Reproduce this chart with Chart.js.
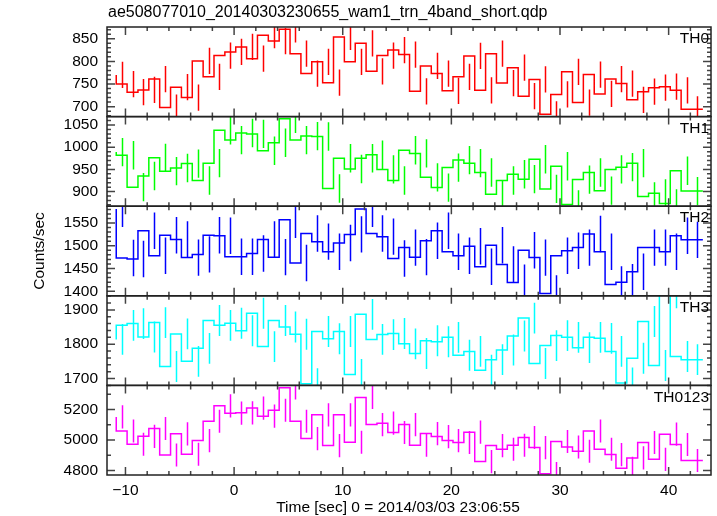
<!DOCTYPE html>
<html>
<head>
<meta charset="utf-8">
<script src="https://cdn.jsdelivr.net/npm/chart.js@4.4.0/dist/chart.umd.min.js"></script>
<style>
    html, body { margin: 0; padding: 0; background: #fff; }
    #wrap { width: 717px; height: 516px; }
</style>
</head>
<body>
<div id="wrap"><canvas id="chart" width="717" height="516"></canvas></div>
<script>
'use strict';

const plotTitle = 'ae508077010_20140303230655_wam1_trn_4band_short.qdp';
const xTitle = 'Time [sec] 0 = 2014/03/03 23:06:55';
const yTitle = 'Counts/sec';

// bin centres, seconds
const binTimes = [
    -10.35, -9.35, -8.35, -7.35, -6.35, -5.35, -4.35, -3.35, -2.35, -1.35,
    -0.35, 0.65, 1.65, 2.65, 3.65, 4.65, 5.65, 6.65, 7.65, 8.65,
    9.65, 10.65, 11.65, 12.65, 13.65, 14.65, 15.65, 16.65, 17.65, 18.65,
    19.65, 20.65, 21.65, 22.65, 23.65, 24.65, 25.65, 26.65, 27.65, 28.65,
    29.65, 30.65, 31.65, 32.65, 33.65, 34.65, 35.65, 36.65, 37.65, 38.65,
    39.65, 40.65, 41.65, 42.65
];
const binWidth = 1.0;

const bandNames = ['TH0', 'TH1', 'TH2', 'TH3', 'TH0123'];

const th0 = [
    770, 750, 732, 737, 761, 698, 743, 720, 801, 766,
    813, 821, 832, 806, 858, 845, 871, 817, 773, 799,
    753, 854, 799, 840, 778, 813, 825, 815, 734, 790,
    773, 735, 766, 812, 736, 817, 752, 786, 723, 760,
    683, 727, 777, 709, 771, 728, 761, 751, 715, 733,
    742, 744, 736, 694
];

const th1 = [
    989, 982, 910, 935, 976, 946, 953, 963, 925, 964,
    1038, 1016, 1032, 1030, 992, 1010, 1064, 1016, 1025, 1024,
    907, 975, 951, 975, 983, 950, 925, 993, 986, 932,
    909, 954, 971, 964, 943, 894, 925, 939, 928, 973,
    906, 957, 871, 927, 943, 902, 950, 955, 964, 889,
    896, 873, 947, 901
];

const th2 = [
    1581, 1473, 1471, 1533, 1478, 1523, 1514, 1474, 1481, 1523,
    1522, 1476, 1476, 1483, 1514, 1475, 1557, 1462, 1527, 1509,
    1487, 1506, 1525, 1581, 1527, 1520, 1472, 1496, 1475, 1511,
    1533, 1487, 1478, 1499, 1454, 1501, 1459, 1419, 1490, 1474,
    1395, 1478, 1489, 1496, 1526, 1487, 1415, 1420, 1443, 1496,
    1496, 1487, 1522, 1513
];

const th3 = [
    1814, 1855, 1860, 1821, 1863, 1735, 1830, 1750, 1788, 1869,
    1855, 1861, 1839, 1890, 1793, 1869, 1850, 1829, 1685, 1837,
    1816, 1837, 1712, 1887, 1814, 1828, 1831, 1801, 1773, 1810,
    1807, 1820, 1768, 1779, 1724, 1755, 1783, 1824, 1876, 1744,
    1796, 1825, 1820, 1790, 1820, 1817, 1779, 1687, 1759, 1866,
    1738, 1950, 1764, 1755
];

const th0123 = [
    5151, 5059, 4972, 5024, 5075, 4901, 5040, 4906, 4996, 5123,
    5224, 5176, 5178, 5209, 5156, 5195, 5342, 5123, 5009, 5165,
    4963, 5165, 4985, 5279, 5101, 5110, 5049, 5101, 4965, 5042,
    5022, 4996, 4983, 5051, 4858, 4963, 4939, 4965, 5016, 4950,
    4779, 4990, 4954, 4926, 5059, 4939, 4904, 4814, 4882, 4983,
    4873, 5038, 4970, 4865
];

// 1 sigma error of each band (about constant over the run)
const bandErrors = [29, 32, 40, 45, 76];

// axis setup of each panel
const yMins = [678, 867, 1390, 1680, 4770];
const yMaxs = [876, 1069, 1587, 1941, 5358];
const yMajor = [50, 50, 50, 100, 200];
const yMinor = [10, 10, 10, 20, 100];

const bandValues = [th0, th1, th2, th3, th0123];
const bandColors = ['#ff0000', '#00ff00', '#0000ff', '#00ffff', '#ff00ff'];

const xMin = -11.7;
const xMax = 43.9;

const FONT = 'Liberation Sans, Arial, sans-serif';

Chart.defaults.font.family = FONT;
Chart.defaults.font.size = 15.5;
Chart.defaults.color = '#000';

/**
 * Step outline through the bin edges.
 */
function stepPoints(values) {
    const pts = values.map((v, i) => ({ x: binTimes[i] - binWidth / 2, y: v }));
    const last = values.length - 1;
    pts.push({ x: binTimes[last] + binWidth / 2, y: values[last] });
    return pts;
}

/**
 * Ticks on every multiple of step between min and max.
 */
function tickList(min, max, step) {
    const out = [];
    for (let k = Math.ceil(min / step); k * step <= max; k++) {
        out.push({ value: k * step });
    }
    return out;
}

const qdpPanels = {

    id: 'qdpPanels',

    beforeDatasetDraw(chart, args) {
        const ds = chart.data.datasets[args.index];
        const ys = chart.scales[ds.yAxisID];
        const area = chart.chartArea;
        const ctx = chart.ctx;
        ctx.save();
        ctx.beginPath();
        ctx.rect(area.left, ys.top, area.right - area.left, ys.bottom - ys.top);
        ctx.clip();
    },

    afterDatasetDraw(chart, args) {
        const i = args.index;
        const ds = chart.data.datasets[i];
        const xs = chart.scales.x;
        const ys = chart.scales[ds.yAxisID];
        const ctx = chart.ctx;
        const err = bandErrors[i];

        ctx.strokeStyle = bandColors[i];
        ctx.lineWidth = 1.5;
        ctx.beginPath();
        bandValues[i].forEach((v, k) => {
            const px = Math.round(xs.getPixelForValue(binTimes[k])) + 0.5;
            ctx.moveTo(px, ys.getPixelForValue(v + err));
            ctx.lineTo(px, ys.getPixelForValue(v - err));
        });
        ctx.stroke();
        ctx.restore();
    },

    afterDraw(chart) {
        const ctx = chart.ctx;
        const area = chart.chartArea;
        const xs = chart.scales.x;
        const L = area.left;
        const R = area.right;

        ctx.save();
        ctx.lineWidth = 1.5;

        bandNames.forEach((name, p) => {
            const ys = chart.scales['y' + p];
            const top = ys.top;
            const bottom = ys.bottom;

            ctx.strokeStyle = '#444';
            ctx.beginPath();

            // y ticks, left and right, pointing in
            tickList(yMins[p], yMaxs[p], yMinor[p]).forEach(t => {
                const py = ys.getPixelForValue(t.value);
                const len = t.value % yMajor[p] === 0 ? 8 : 4;
                ctx.moveTo(L, py);
                ctx.lineTo(L + len, py);
                ctx.moveTo(R, py);
                ctx.lineTo(R - len, py);
            });

            // x ticks, top and bottom, pointing in
            tickList(xMin, xMax, 2).forEach(t => {
                const px = xs.getPixelForValue(t.value);
                const len = t.value % 10 === 0 ? 8 : 4;
                ctx.moveTo(px, top);
                ctx.lineTo(px, top + len);
                ctx.moveTo(px, bottom);
                ctx.lineTo(px, bottom - len);
            });
            ctx.stroke();

            ctx.strokeStyle = '#222';
            ctx.strokeRect(L, top, R - L, bottom - top);

            ctx.fillStyle = '#000';
            ctx.font = '15.5px ' + FONT;
            ctx.textAlign = 'right';
            ctx.textBaseline = 'middle';
            ctx.fillText(name, R - 2, top + 12);
        });

        ctx.fillStyle = '#000';
        ctx.textBaseline = 'middle';

        ctx.font = '16px ' + FONT;
        ctx.textAlign = 'left';
        ctx.fillText(plotTitle, 108, 13);

        ctx.font = '15.5px ' + FONT;
        ctx.textAlign = 'center';
        ctx.fillText(xTitle, 398, 508);

        ctx.translate(40, (area.top + area.bottom) / 2);
        ctx.rotate(-Math.PI / 2);
        ctx.fillText(yTitle, 0, 0);

        ctx.restore();
    }

};

const scales = {
    x: {
        type: 'linear',
        position: 'bottom',
        min: xMin,
        max: xMax,
        grid: { display: false, drawTicks: false },
        border: { display: false },
        ticks: {
            padding: 6,
            maxRotation: 0,
            autoSkip: false,
            callback: v => String(v).replace('-', '\u2212')
        },
        afterBuildTicks(scale) {
            scale.ticks = tickList(xMin, xMax, 10);
        },
        afterFit(scale) {
            scale.height = 41;
        }
    }
};

bandNames.forEach((name, p) => {
    scales['y' + p] = {
        type: 'linear',
        position: 'left',
        stack: 'bands',
        stackWeight: 1,
        weight: 10 - p,
        min: yMins[p],
        max: yMaxs[p],
        grid: { display: false, drawTicks: false },
        border: { display: false },
        ticks: {
            padding: 9,
            autoSkip: false,
            callback: v => String(v)
        },
        afterBuildTicks(scale) {
            scale.ticks = tickList(yMins[p], yMaxs[p], yMajor[p]);
        },
        afterFit(scale) {
            scale.width = 50;
        }
    };
});

new Chart(document.getElementById('chart'), {

    type: 'line',

    data: {
        datasets: bandNames.map((name, p) => ({
            label: name,
            data: stepPoints(bandValues[p]),
            yAxisID: 'y' + p,
            borderColor: bandColors[p],
            borderWidth: 1.5,
            pointRadius: 0,
            stepped: 'after',
            tension: 0,
            fill: false
        }))
    },

    options: {
        responsive: false,
        animation: false,
        layout: {
            padding: { left: 57, top: 27, right: 6, bottom: 0 }
        },
        plugins: {
            legend: { display: false },
            tooltip: { enabled: false }
        },
        scales: scales
    },

    plugins: [qdpPanels]

});
</script>
</body>
</html>
